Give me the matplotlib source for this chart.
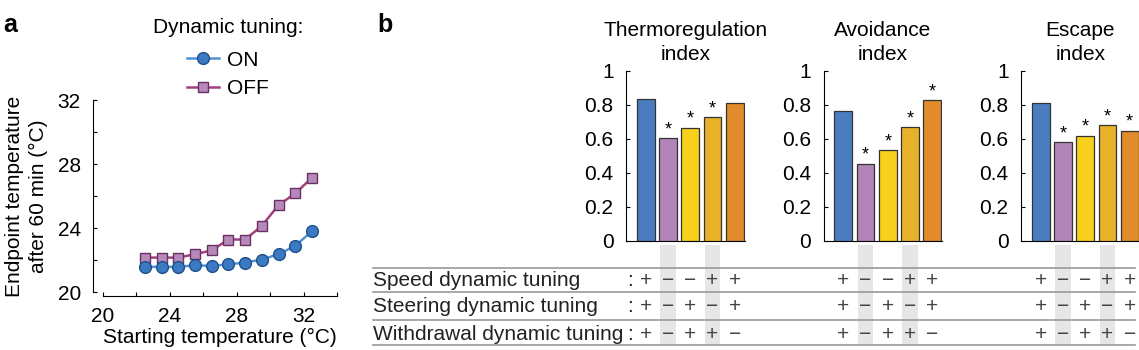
import numpy as np
import matplotlib
matplotlib.use("Agg")
import matplotlib.pyplot as plt
import matplotlib.transforms as mtransforms

plt.rcParams['font.family'] = ['Liberation Sans', 'DejaVu Sans']
plt.rcParams['font.size'] = 15

# ---- panel a data ----
start_temp = [22.5, 23.5, 24.5, 25.5, 26.5, 27.5, 28.5, 29.5, 30.5, 31.5, 32.5]
end_on = [21.57, 21.57, 21.57, 21.67, 21.63, 21.73, 21.84, 22.03, 22.36, 22.88, 23.8]
end_off = [22.15, 22.15, 22.15, 22.36, 22.6, 23.28, 23.28, 24.13, 25.43, 26.16, 27.14]

# ---- panel b data ----
index_titles = ["Thermoregulation\nindex", "Avoidance\nindex", "Escape\nindex"]
index_values = [
    [0.835, 0.603, 0.666, 0.727, 0.81],
    [0.765, 0.455, 0.533, 0.67, 0.827],
    [0.814, 0.582, 0.618, 0.68, 0.65],
]
index_stars = [
    [False, True, True, True, False],
    [False, True, True, True, True],
    [False, True, True, True, True],
]
bar_colors = ["#4a7dc0", "#b384b8", "#f7cf1d", "#e8b12a", "#e18b2b"]
row_labels = ["Speed dynamic tuning", "Steering dynamic tuning", "Withdrawal dynamic tuning"]
row_signs = [
    ["+", "\u2212", "\u2212", "+", "+"],
    ["+", "\u2212", "+", "\u2212", "+"],
    ["+", "\u2212", "+", "+", "\u2212"],
]
shaded_cols = [1, 3]

W, H = 1139, 350
fig = plt.figure(figsize=(W / 100, H / 100), dpi=100)


def px_rect(x0, x1, ytop, ybot):
    return [x0 / W, 1 - ybot / H, (x1 - x0) / W, (ybot - ytop) / H]


# overlay axes in pixel coordinates, used for the table
ov = fig.add_axes([0, 0, 1, 1], zorder=-1)
ov.set_xlim(0, W)
ov.set_ylim(H, 0)
ov.axis("off")

# ---------------- panel a ----------------
ax = fig.add_axes(px_rect(103, 337, 100, 292))
ax.plot(start_temp, end_on, "-o", color="#4f93d3", mfc="#3b79c2", mec="#1f4f8a",
        ms=8.5, lw=1.8, label="ON", clip_on=False, zorder=3)
ax.plot(start_temp, end_off, "-s", color="#a3417f", mfc="#b58aba", mec="#6a2f63",
        ms=7.5, lw=1.8, label="OFF", clip_on=False, zorder=2)
ax.set_xlim(20, 34)
ax.set_ylim(20, 32)
ax.set_xticks([20, 24, 28, 32])
ax.set_xticks([22, 26, 30, 34], minor=True)
ax.set_yticks([20, 24, 28, 32])
ax.set_yticks([22, 26, 30], minor=True)
for s in ["top", "right"]:
    ax.spines[s].set_visible(False)
ax.spines["left"].set_position(("outward", 7))
ax.spines["bottom"].set_position(("outward", 3))
ax.tick_params(which="both", direction="in", length=3, width=0.8, pad=9)
ax.tick_params(axis="x", pad=8)
ax.set_xlabel("Starting temperature (°C)", labelpad=1)
ax.set_ylabel("Endpoint temperature\nafter 60 min (°C)", labelpad=7, linespacing=1.3)
leg = ax.legend(title="Dynamic tuning:", loc="center", bbox_to_anchor=(228 / W, 1 - 58 / H),
                bbox_transform=fig.transFigure, frameon=False, handlelength=1.5,
                handletextpad=0.4, labelspacing=0.45, borderpad=0, alignment="center")
leg.get_title().set_fontsize(15)
leg._legend_box.sep = 10

fig.text(3 / W, 1 - 25 / H, "a", fontsize=18, fontweight="bold", va="center")
fig.text(377 / W, 1 - 25 / H, "b", fontsize=18, fontweight="bold", va="center")

# ---------------- panel b ----------------
unit = 22.25
x0_lim, x1_lim = -0.88, 4.45
centers0 = [645.7, 843.3, 1040.7]
xpos = np.arange(5)
bar_axes = []
for k in range(3):
    left = centers0[k] + x0_lim * unit
    right = centers0[k] + x1_lim * unit
    bx = fig.add_axes(px_rect(left, right, 71, 241))
    bx.bar(xpos, index_values[k], width=0.8, color=bar_colors,
           edgecolor="#333333", linewidth=0.9, zorder=3)
    for i, v in enumerate(index_values[k]):
        if index_stars[k][i]:
            bx.annotate("*", (xpos[i], v), xytext=(0, 0), textcoords="offset points",
                        ha="center", va="bottom", fontsize=13)
    bx.set_xlim(x0_lim, x1_lim)
    bx.set_ylim(0, 1)
    bx.set_yticks([0, 0.2, 0.4, 0.6, 0.8, 1])
    bx.set_yticklabels(["0", "0.2", "0.4", "0.6", "0.8", "1"])
    bx.set_xticks([])
    for s in ["top", "right"]:
        bx.spines[s].set_visible(False)
    bx.tick_params(direction="in", length=3, width=0.8, pad=9)
    bx.set_title(index_titles[k], fontsize=15, pad=8, linespacing=1.35)
    bar_axes.append(bx)

# ---------------- table ----------------
line_ys = [268, 292, 320, 345]
row_ys = [281, 307, 334]
for y in line_ys:
    ov.plot([373, 1135], [y, y], color="#9a9a9a", lw=1.2)
for r, lab in enumerate(row_labels):
    ov.text(373, row_ys[r], lab, ha="left", va="center", fontsize=15, color="#222222")
    ov.text(630, row_ys[r], ":", ha="center", va="center", fontsize=15, color="#222222")
for k, bx in enumerate(bar_axes):
    tr = mtransforms.blended_transform_factory(bx.transData, ov.transData)
    for c in shaded_cols:
        ov.fill_between([c - 0.35, c + 0.35], [245, 245], [345, 345], color="#e6e6e6",
                        lw=0, transform=tr, zorder=0)
    for r in range(3):
        for i in range(5):
            ov.text(xpos[i], row_ys[r], row_signs[r][i], ha="center", va="center",
                    fontsize=15, color="#444444", transform=tr)

fig.savefig("out.png", dpi=100)
